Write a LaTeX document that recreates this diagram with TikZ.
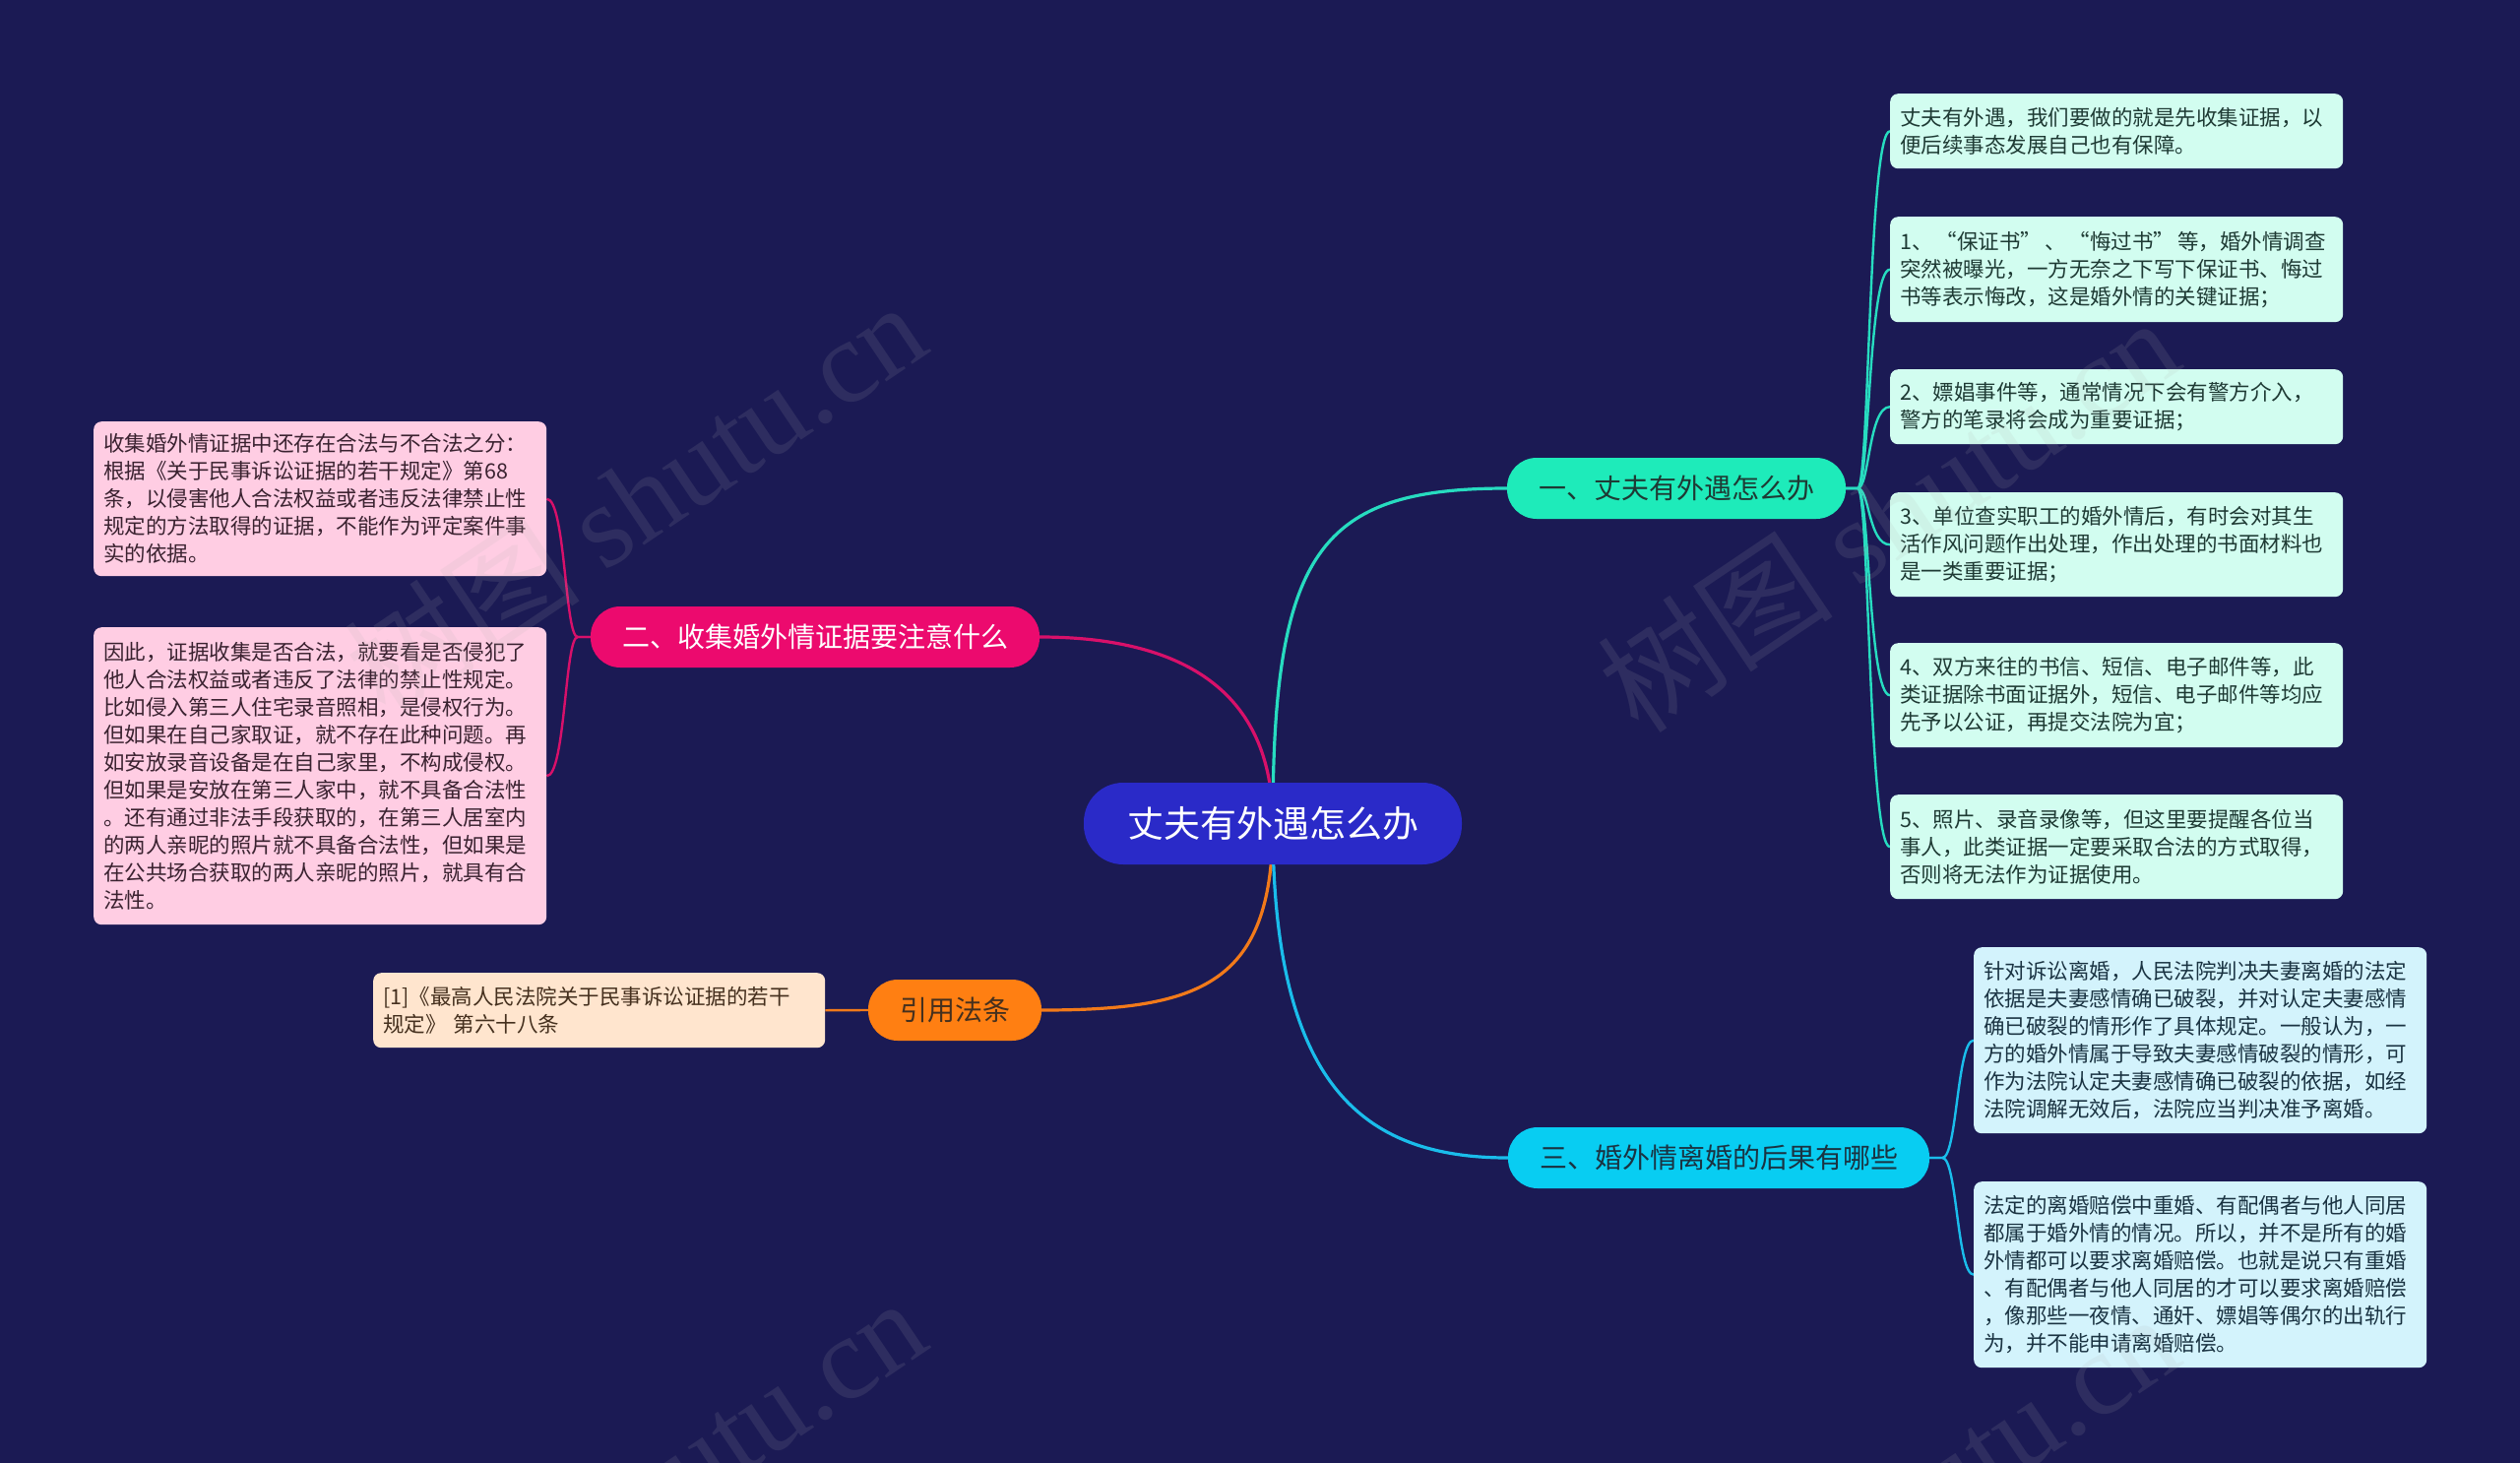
\documentclass[tikz,border=0pt]{standalone}
\usepackage{fontspec}
\setmainfont{Noto Sans CJK SC}
\newfontfamily\wmserif{Liberation Serif}
\usetikzlibrary{backgrounds}
\definecolor{bgc}{HTML}{1B1A54}
\definecolor{cfill}{HTML}{2A2AC8}
\definecolor{tealc}{HTML}{1EEBBA}
\definecolor{tealline}{HTML}{27DCC0}
\definecolor{leafA}{HTML}{D2FDF0}
\definecolor{pinkc}{HTML}{EC0A6E}
\definecolor{pinkline}{HTML}{D8106A}
\definecolor{leafB}{HTML}{FFCDE3}
\definecolor{cyanc}{HTML}{08CDF2}
\definecolor{cyanline}{HTML}{1ABDEB}
\definecolor{leafC}{HTML}{D3F3FC}
\definecolor{orangec}{HTML}{FF7F12}
\definecolor{orangeline}{HTML}{F27A1A}
\definecolor{leafD}{HTML}{FFE5CE}
\definecolor{txtA}{HTML}{1E3A34}
\definecolor{txtB}{HTML}{3A2230}
\definecolor{txtC}{HTML}{1A3342}
\definecolor{txtD}{HTML}{45301E}
\tikzset{
  centralnode/.style={fill=cfill, text=white, rounded corners=40pt, minimum height=83pt,
    inner xsep=44pt, inner ysep=0pt, font=\fontsize{37}{40}\selectfont},
  branchnode/.style={rounded corners=30pt, minimum height=62pt, inner xsep=32pt,
    inner ysep=0pt, font=\fontsize{28}{32}\selectfont},
  leafnode/.style={rounded corners=8pt, text width=440pt, inner xsep=10pt, inner ysep=0pt,
    align=left, anchor=north west, font=\fontsize{21.5}{28}\selectfont},
  mainline/.style={line width=3.2pt},
  subline/.style={line width=2.4pt},
  wmark/.style={text=gray!60, opacity=0.13, rotate=34, font=\fontsize{120}{120}\selectfont}
}
\begin{document}
\begin{tikzpicture}[x=1pt,y=-1pt]
\useasboundingbox (0,0) rectangle (2560,1486);

% central and branch nodes
\node[centralnode] (c) at (1293,836.5) {丈夫有外遇怎么办};
\node[branchnode, fill=tealc, text=txtA] (b1) at (1703,496) {一、丈夫有外遇怎么办};
\node[branchnode, fill=pinkc, text=white] (b2) at (828,647) {二、收集婚外情证据要注意什么};
\node[branchnode, fill=cyanc, text=txtC] (b3) at (1746,1176) {三、婚外情离婚的后果有哪些};
\node[branchnode, fill=orangec, text=txtD] (b4) at (970,1026) {引用法条};

% leaves of branch 1
\node[leafnode, fill=leafA, text=txtA, minimum height=76pt] (l1a) at (1920,95)
  {丈夫有外遇，我们要做的就是先收集证据，以\\便后续事态发展自己也有保障。};
\node[leafnode, fill=leafA, text=txtA, minimum height=107pt] (l1b) at (1920,220)
  {\mbox{1、\hspace{3pt}“保证书”\hspace{3pt}、\hspace{3pt}“悔过书”\hspace{3pt}等，婚外情调查}\\突然被曝光，一方无奈之下写下保证书、悔过\\书等表示悔改，这是婚外情的关键证据；};
\node[leafnode, fill=leafA, text=txtA, minimum height=76pt] (l1c) at (1920,375)
  {2、嫖娼事件等，通常情况下会有警方介入，\\警方的笔录将会成为重要证据；};
\node[leafnode, fill=leafA, text=txtA, minimum height=106pt] (l1d) at (1920,500)
  {3、单位查实职工的婚外情后，有时会对其生\\活作风问题作出处理，作出处理的书面材料也\\是一类重要证据；};
\node[leafnode, fill=leafA, text=txtA, minimum height=106pt] (l1e) at (1920,653)
  {4、双方来往的书信、短信、电子邮件等，此\\类证据除书面证据外，短信、电子邮件等均应\\先予以公证，再提交法院为宜；};
\node[leafnode, fill=leafA, text=txtA, minimum height=106pt] (l1f) at (1920,807)
  {5、照片、录音录像等，但这里要提醒各位当\\事人，此类证据一定要采取合法的方式取得，\\否则将无法作为证据使用。};

% leaves of branch 2
\node[leafnode, fill=leafB, text=txtB, minimum height=157pt] (l2a) at (95,428)
  {收集婚外情证据中还存在合法与不合法之分：\\根据《关于民事诉讼证据的若干规定》第68\\条，以侵害他人合法权益或者违反法律禁止性\\规定的方法取得的证据，不能作为评定案件事\\实的依据。};
\node[leafnode, fill=leafB, text=txtB, minimum height=302pt] (l2b) at (95,637)
  {因此，证据收集是否合法，就要看是否侵犯了\\他人合法权益或者违反了法律的禁止性规定。\\比如侵入第三人住宅录音照相，是侵权行为。\\但如果在自己家取证，就不存在此种问题。再\\如安放录音设备是在自己家里，不构成侵权。\\但如果是安放在第三人家中，就不具备合法性\\。还有通过非法手段获取的，在第三人居室内\\的两人亲昵的照片就不具备合法性，但如果是\\在公共场合获取的两人亲昵的照片，就具有合\\法性。};

% leaves of branch 3
\node[leafnode, fill=leafC, text=txtC, minimum height=189pt] (l3a) at (2005,962)
  {针对诉讼离婚，人民法院判决夫妻离婚的法定\\依据是夫妻感情确已破裂，并对认定夫妻感情\\确已破裂的情形作了具体规定。一般认为，一\\方的婚外情属于导致夫妻感情破裂的情形，可\\作为法院认定夫妻感情确已破裂的依据，如经\\法院调解无效后，法院应当判决准予离婚。};
\node[leafnode, fill=leafC, text=txtC, minimum height=189pt] (l3b) at (2005,1200)
  {法定的离婚赔偿中重婚、有配偶者与他人同居\\都属于婚外情的情况。所以，并不是所有的婚\\外情都可以要求离婚赔偿。也就是说只有重婚\\、有配偶者与他人同居的才可以要求离婚赔偿\\，像那些一夜情、通奸、嫖娼等偶尔的出轨行\\为，并不能申请离婚赔偿。};

% leaf of branch 4
\node[leafnode, fill=leafD, text=txtD, text width=439pt, minimum height=76pt] (l4a) at (379,988)
  {[1]《最高人民法院关于民事诉讼证据的若干\\规定》 第六十八条};

\begin{pgfonlayer}{background}
\fill[bgc] (0,0) rectangle (2560,1486);
% main connectors
\draw[mainline, tealline] (c.center) .. controls +(0,-277) and +(-190,0) .. (b1.west);
\draw[mainline, pinkline] (c.center) .. controls +(0,-137) and +(142,0) .. (b2.east);
\draw[mainline, orangeline] (c.center) .. controls +(0,163) and +(162,0) .. (b4.east);
\draw[mainline, cyanline] (c.center) .. controls +(0,263) and +(-150,0) .. (b3.west);
% branch 1 leaves
\foreach \l in {l1a,l1b,l1c,l1d,l1e,l1f}
  \draw[subline, tealline] (b1.east) -- ++(12,0) .. controls +(12,0) and +(-22,0) .. (\l.west);
% branch 2 leaves
\foreach \l in {l2a,l2b}
  \draw[subline, pinkline] (b2.west) -- ++(-13,0) .. controls +(-13,0) and +(19,0) .. (\l.east);
% branch 3 leaves
\foreach \l in {l3a,l3b}
  \draw[subline, cyanline] (b3.east) -- ++(13,0) .. controls +(15,0) and +(-17,0) .. (\l.west);
% branch 4 leaf
\draw[subline, orangeline] (b4.west) -- (l4a.east);
\end{pgfonlayer}

% watermarks
\node[wmark] (w1) at (645,506) {树图 {\wmserif shutu.cn}};
\node[wmark] (w2) at (1918,522) {树图 {\wmserif shutu.cn}};
\node[wmark] (w3) at (645,1518) {树图 {\wmserif shutu.cn}};
\node[wmark] (w4) at (1918,1534) {树图 {\wmserif shutu.cn}};
\end{tikzpicture}
\end{document}
